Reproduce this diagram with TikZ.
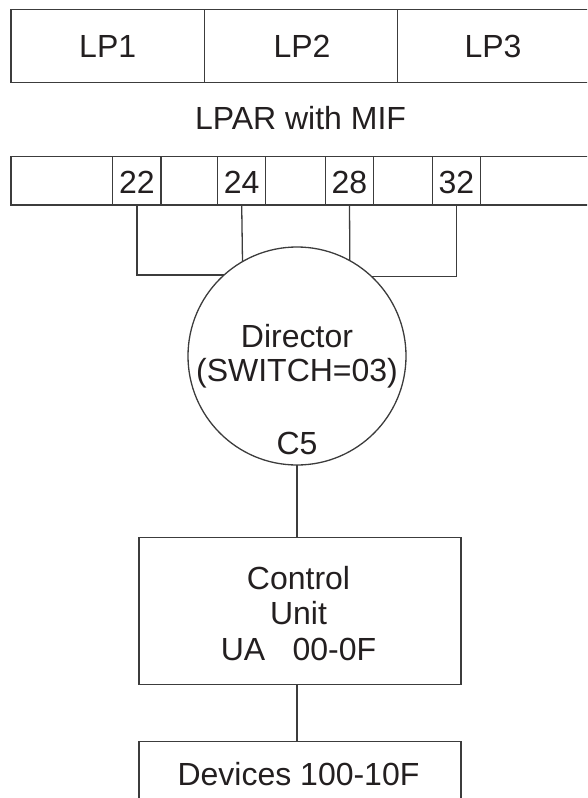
\documentclass[tikz,border=0pt]{standalone}
\usepackage{fontspec}
\setmainfont{Liberation Sans}
\definecolor{linecol}{HTML}{3C3C3C}
\definecolor{txtcol}{HTML}{231F20}
\begin{document}
\begin{tikzpicture}[x=1pt,y=-1pt,line width=1.3pt,
  box/.style={draw=linecol,rectangle,inner sep=0pt,outer sep=0pt,anchor=north west},
  txt/.style={font=\fontsize{32}{35.5}\selectfont,text=txtcol,inner sep=0pt,anchor=base},
  wire/.style={draw=linecol,line width=1.3pt}]
\useasboundingbox (0,0) rectangle (587,798);
\clip (0,0) rectangle (587,798);
% top partition box
\node[box,minimum width=193.5pt,minimum height=73pt] (lp1) at (11,9.5) {};
\node[box,minimum width=193.2pt,minimum height=73pt] (lp2) at (204.5,9.5) {};
\node[box,minimum width=192pt,minimum height=73pt] (lp3) at (397.7,9.5) {};
\node[txt] (t1) at (107.7,57.3) {LP1};
\node[txt] (t2) at (302,57.3) {LP2};
\node[txt] (t3) at (493,57.3) {LP3};
\node[txt] (lpar) at (300.5,129) {LPAR with MIF};
% channel bar
\node[box,minimum width=580pt,minimum height=48.3pt] (bar) at (11,156.7) {};
\node[box,minimum width=48.3pt,minimum height=48.3pt] (c22) at (112.7,156.7) {};
\node[box,minimum width=48pt,minimum height=48.3pt] (c24) at (217.7,156.7) {};
\node[box,minimum width=47.6pt,minimum height=48.3pt] (c28) at (325.7,156.7) {};
\node[box,minimum width=48pt,minimum height=48.3pt] (c32) at (432.3,156.7) {};
\node[txt] (n22) at (136.8,193.3) {22};
\node[txt] (n24) at (241.7,193.3) {24};
\node[txt] (n28) at (349.5,193.3) {28};
\node[txt] (n32) at (456.3,193.3) {32};
% director
\node[draw=linecol,circle,minimum size=218pt,inner sep=0pt,outer sep=0pt] (dir) at (297,356) {};
\node[txt] (d1) at (297,347.3) {Director};
\node[txt] (d2) at (297,381.7) {(SWITCH=03)};
\node[txt] (d3) at (297,454) {C5};
% wires
\draw[wire] (c22.south) |- (dir.132.8);
\draw[wire] (c24.south) -- (dir.120.3);
\draw[wire] (c28.south) -- (dir.61.0);
\draw[wire] (c32.south) |- (dir.47.2);
% control unit
\node[box,minimum width=322pt,minimum height=147.4pt] (cu) at (139,537.3) {};
\node[txt] (u1) at (298.5,589.3) {Control};
\node[txt] (u2) at (298.5,624) {Unit};
\node[txt] (u3) at (298.5,660) {UA\hspace{0.85em}00-0F};
\draw[wire] (dir.south) -- (dir.south |- cu.north);
% devices
\node[box,minimum width=322pt,minimum height=80pt] (dev) at (139,741.7) {};
\node[txt] (v1) at (298.5,785) {Devices 100-10F};
\draw[wire] (dir.south |- cu.south) -- (dir.south |- dev.north);
\end{tikzpicture}
\end{document}
